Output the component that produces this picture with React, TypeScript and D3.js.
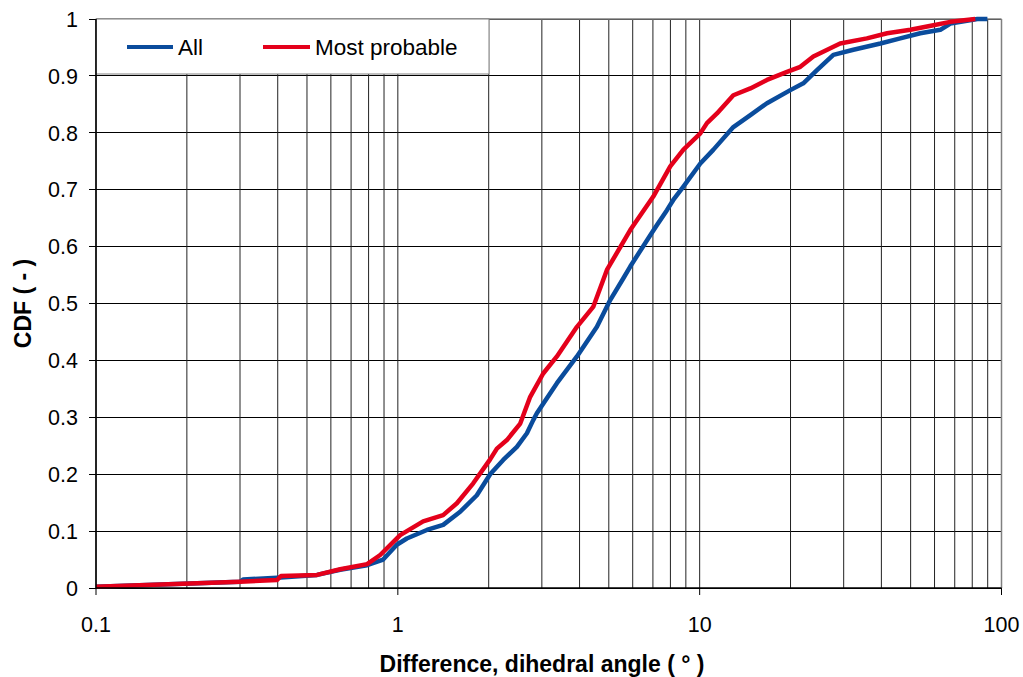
import React from "react";
import * as d3 from "d3";

const allX = [0.1, 0.205, 0.3, 0.307, 0.398, 0.54, 0.644, 0.791, 0.894, 0.992, 1.071, 1.248, 1.413, 1.609, 1.827, 2.022, 2.234, 2.48, 2.677, 2.809, 2.888, 3.365, 3.921, 4.567, 5.053, 5.581, 5.888, 6.86, 7.22, 7.79, 8.176, 8.82, 10.05, 11.09, 12.93, 14.72, 16.71, 19.97, 22.05, 24.47, 27.73, 32.3, 39.7, 46.2, 53.8, 62.7, 67.7, 83.2, 89.8];
const allY = [0.002, 0.008, 0.011, 0.015, 0.018, 0.023, 0.032, 0.04, 0.05, 0.076, 0.087, 0.102, 0.111, 0.134, 0.163, 0.2, 0.225, 0.248, 0.272, 0.295, 0.307, 0.36, 0.407, 0.459, 0.506, 0.544, 0.565, 0.62, 0.638, 0.664, 0.682, 0.705, 0.746, 0.77, 0.81, 0.831, 0.852, 0.875, 0.887, 0.91, 0.937, 0.946, 0.957, 0.966, 0.975, 0.981, 0.992, 1.0, 1.0];

const probX = [0.1, 0.205, 0.3, 0.398, 0.41, 0.54, 0.644, 0.791, 0.874, 1.018, 1.213, 1.413, 1.569, 1.777, 2.022, 2.129, 2.298, 2.544, 2.745, 3.031, 3.365, 3.921, 4.439, 4.928, 5.888, 7.02, 7.99, 8.82, 10.05, 10.57, 11.41, 12.93, 14.72, 16.71, 19.47, 21.55, 23.8, 29.2, 35.8, 41.8, 49.9, 59.5, 67.7, 81.9];
const probY = [0.002, 0.008, 0.011, 0.014, 0.021, 0.023, 0.033, 0.042, 0.058, 0.093, 0.117, 0.128, 0.149, 0.184, 0.226, 0.245, 0.26, 0.289, 0.336, 0.377, 0.407, 0.459, 0.494, 0.559, 0.629, 0.688, 0.741, 0.77, 0.799, 0.817, 0.834, 0.866, 0.878, 0.893, 0.907, 0.916, 0.934, 0.957, 0.966, 0.975, 0.981, 0.989, 0.995, 1.0];

const xTickLabels = ["0.1", "1", "10", "100"];
const yTickLabels = ["0", "0.1", "0.2", "0.3", "0.4", "0.5", "0.6", "0.7", "0.8", "0.9", "1"];
const seriesNames = ["All", "Most probable"];
const seriesColors = ["#0a4c9c", "#e4001b"];

const W = 1023;
const H = 677;
const L = 96, R = 1001.5, T = 19, B = 588;

export default function App() {
  const x = d3.scaleLog().domain([0.1, 100]).range([L, R]);
  const y = d3.scaleLinear().domain([0, 1]).range([B, T]);

  const minor: number[] = [];
  for (const dec of [0.1, 1, 10]) {
    for (let k = 2; k <= 9; k++) minor.push(dec * k);
  }
  const majors = xTickLabels.map(Number);
  const yVals = yTickLabels.map(Number);

  const line = d3
    .line<[number, number]>()
    .x((d) => x(d[0]))
    .y((d) => y(d[1]))
    .curve(d3.curveLinear);

  const allData = allX.map((v, i) => [v, allY[i]] as [number, number]);
  const probData = probX.map((v, i) => [v, probY[i]] as [number, number]);

  const font = "'Liberation Sans', Arial, sans-serif";

  return (
    <svg
      width={W}
      height={H}
      style={{ position: "absolute", left: 0, top: 0, background: "#fff" }}
      fontFamily={font}
    >
      <rect x={0} y={0} width={W} height={H} fill="#fff" />
      {/* horizontal grid */}
      {yVals.map((v) => (
        <line key={"h" + v} x1={L} x2={R} y1={y(v)} y2={y(v)} stroke="#000" strokeWidth={1} shapeRendering="crispEdges" />
      ))}
      {/* vertical grid */}
      {minor.concat(majors).map((v) => (
        <line key={"v" + v} x1={x(v)} x2={x(v)} y1={T} y2={B} stroke="#222" strokeWidth={1} />
      ))}
      {/* frame top/right grey */}
      <line x1={L} x2={R} y1={T} y2={T} stroke="#808080" strokeWidth={1.5} />
      <line x1={R} x2={R} y1={T} y2={B} stroke="#808080" strokeWidth={1.5} />
      {/* legend box */}
      <rect x={L} y={T} width={393} height={55} fill="#fff" stroke="#808080" strokeWidth={1} />
      {/* series */}
      <path d={line(allData) || ""} fill="none" stroke={seriesColors[0]} strokeWidth={4.5} strokeLinejoin="round" />
      <path d={line(probData) || ""} fill="none" stroke={seriesColors[1]} strokeWidth={4.5} strokeLinejoin="round" />
      {/* axes */}
      <line x1={L} x2={L} y1={T} y2={B} stroke="#000" strokeWidth={1.5} />
      <line x1={L} x2={R} y1={B} y2={B} stroke="#000" strokeWidth={1.5} />
      {yVals.map((v, i) => (
        <g key={"yt" + v}>
          <line x1={L - 7} x2={L} y1={y(v)} y2={y(v)} stroke="#000" strokeWidth={1} shapeRendering="crispEdges" />
          <text x={78} y={y(v)} dy="0.36em" textAnchor="end" fontSize={21.5} fill="#000">
            {yTickLabels[i]}
          </text>
        </g>
      ))}
      {majors.map((v, i) => (
        <g key={"xt" + v}>
          <line x1={x(v)} x2={x(v)} y1={B} y2={B + 7} stroke="#000" strokeWidth={1} />
          <text x={x(v)} y={632} textAnchor="middle" fontSize={21.5} fill="#000">
            {xTickLabels[i]}
          </text>
        </g>
      ))}
      {/* legend */}
      <line x1={127} x2={173} y1={47} y2={47} stroke={seriesColors[0]} strokeWidth={4} />
      <text x={178} y={47} dy="0.36em" fontSize={22.5} fill="#000">{seriesNames[0]}</text>
      <line x1={263} x2={310} y1={47} y2={47} stroke={seriesColors[1]} strokeWidth={4} />
      <text x={315} y={47} dy="0.36em" fontSize={22.5} fill="#000">{seriesNames[1]}</text>
      {/* titles */}
      <text x={542} y={672} textAnchor="middle" fontSize={23} fontWeight="bold" fill="#000">
        Difference, dihedral angle ( ° )
      </text>
      <text
        transform={`translate(30.5, ${(T + B) / 2}) rotate(-90)`}
        textAnchor="middle"
        fontSize={23}
        fontWeight="bold"
        fill="#000"
      >
        CDF ( - )
      </text>
    </svg>
  );
}
